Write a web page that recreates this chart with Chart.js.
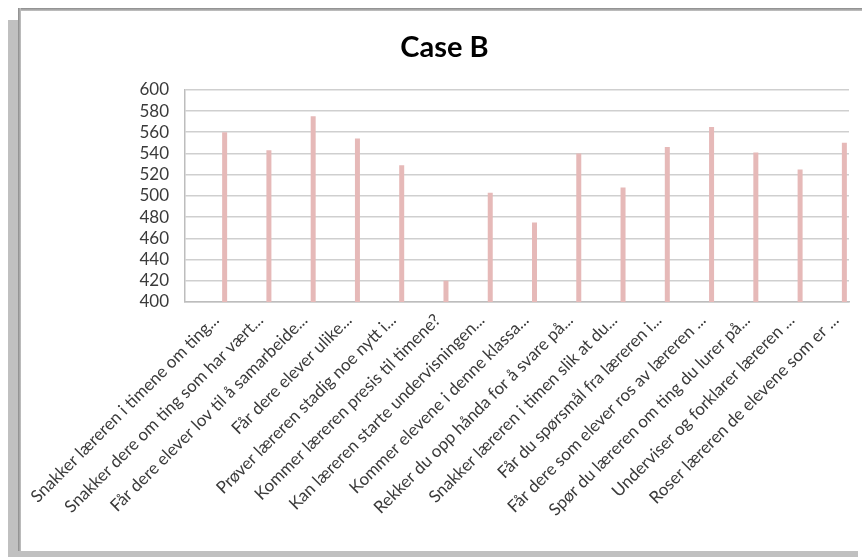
<!DOCTYPE html>
<html>
<head>
<meta charset="utf-8">
<script src="https://cdn.jsdelivr.net/npm/chart.js@4.4.1/dist/chart.umd.min.js"></script>
<style>
  html, body { margin: 0; padding: 0; background: #fff; }
  body { width: 862px; height: 557px; position: relative; overflow: hidden; }
  .edge-top { position: absolute; left: 18px; top: 8px; width: 844px; height: 3px;
              background: linear-gradient(#8a8a8a, #c4c4c4); }
  .edge-left-dark { position: absolute; left: 18px; top: 8px; width: 3px; height: 543px;
                    background: linear-gradient(90deg, #8a8a8a, #c4c4c4); }
  .edge-left { position: absolute; left: 8px; top: 20px; width: 10px; height: 537px; background: #c0c0c0; }
  .edge-bottom { position: absolute; left: 8px; top: 551px; width: 850px; height: 6px; background: #c0c0c0; }
  #wrap { position: absolute; left: 21px; top: 12px; width: 841px; height: 539px; }
</style>
</head>
<body>
<div class="edge-top"></div>
<div class="edge-left-dark"></div>
<div class="edge-left"></div>
<div class="edge-bottom"></div>
<div id="wrap"><canvas id="chart"></canvas></div>
<script>
const chartTitle = 'Case B';

const categories = [
  'Snakker læreren i timene om ting...',
  'Snakker dere om ting som har vært...',
  'Får dere elever lov til å samarbeide...',
  'Får dere elever ulike...',
  'Prøver læreren stadig noe nytt i...',
  'Kommer læreren presis til timene?',
  'Kan læreren starte undervisningen...',
  'Kommer elevene i denne klassa...',
  'Rekker du opp hånda for å svare på...',
  'Snakker læreren i timen slik at du...',
  'Får du spørsmål fra læreren i...',
  'Får dere som elever ros av læreren ...',
  'Spør du læreren om ting du lurer på...',
  'Underviser og forklarer læreren ...',
  'Roser læreren de elevene som er ...'
];

const caseBValues = [560, 543, 575, 554, 529, 420, 503, 475, 540, 508, 546, 565, 541, 525, 550];

const yMin = 400;
const yMax = 600;
const yStep = 20;

// The workbook's chart holds several series per category; only the last one has values,
// so the empty ones keep their slots and push the visible bar to the right of each group.
const emptySeriesCount = 7;

const textColor = '#3a3a3a';
const gridColor = '#cfcfcf';
const barColor = '#e6b9b8';

const datasets = [];
for (let i = 0; i < emptySeriesCount; i++) {
  datasets.push({ label: 'Serie ' + (i + 1), data: categories.map(() => null), backgroundColor: barColor });
}
datasets.push({ label: chartTitle, data: caseBValues, backgroundColor: barColor });

new Chart(document.getElementById('chart'), {
  type: 'bar',
  data: { labels: categories, datasets: datasets },
  options: {
    responsive: true,
    maintainAspectRatio: false,
    animation: false,
    layout: { padding: { left: 19, right: 13, top: 0, bottom: 0 } },
    datasets: { bar: { categoryPercentage: 0.904, barPercentage: 1.0 } },
    plugins: {
      legend: { display: false },
      tooltip: { enabled: false },
      title: {
        display: true,
        text: chartTitle,
        color: '#000',
        font: { family: 'Lato', size: 29, weight: 'bold', lineHeight: 1.2 },
        padding: { top: 18, bottom: 25 }
      }
    },
    scales: {
      x: {
        grid: { display: false, drawTicks: false },
        border: { display: true, color: '#bdbdbd', width: 1.5 },
        ticks: {
          autoSkip: false,
          maxRotation: 45,
          minRotation: 45,
          padding: 8,
          labelOffset: 9,
          color: textColor,
          font: { family: 'Lato', size: 17 }
        },
        afterFit: (scale) => { scale.height = 249; scale.paddingLeft = 0; scale.paddingRight = 0; }
      },
      y: {
        min: yMin,
        max: yMax,
        grid: { color: gridColor, lineWidth: 1.5, drawTicks: false },
        border: { display: true, color: '#bdbdbd', width: 1.5 },
        ticks: {
          stepSize: yStep,
          autoSkip: false,
          padding: 16,
          color: textColor,
          font: { family: 'Lato', size: 17 }
        },
        afterFit: (scale) => { scale.width = 145; }
      }
    }
  }
});
</script>
</body>
</html>
